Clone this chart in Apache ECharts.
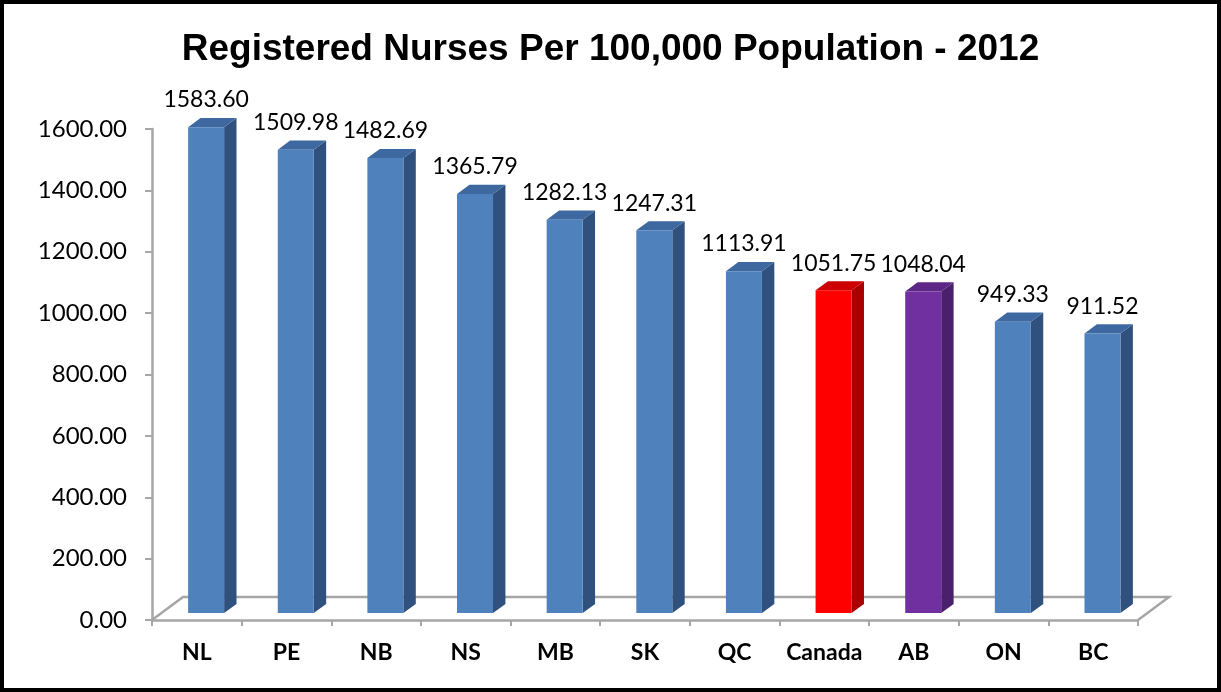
<!DOCTYPE html>
<html>
<head>
<meta charset="utf-8">
<script src="https://cdn.jsdelivr.net/npm/echarts@6/dist/echarts.min.js"></script>
<style>
html,body{margin:0;padding:0;background:#fff;}
#c{width:1221px;height:692px;}
</style>
</head>
<body>
<div id="c"></div>
<script>
const categories = ["NL","PE","NB","NS","MB","SK","QC","Canada","AB","ON","BC"];
const values = [1583.60,1509.98,1482.69,1365.79,1282.13,1247.31,1113.91,1051.75,1048.04,949.33,911.52];
const barKinds = ["prov","prov","prov","prov","prov","prov","prov","canada","ab","prov","prov"];
const yTicks = [0,200,400,600,800,1000,1200,1400,1600];

const palette = {
  prov:   {front:'#4f81bd', side:'#30507d', top:'#3e69a0'},
  canada: {front:'#ff0000', side:'#a80000', top:'#cc0000'},
  ab:     {front:'#7030a0', side:'#4a1f6c', top:'#5c2787'}
};
const DEPTH_DX = 31, DEPTH_DY = -23;       // floor depth
const F0 = 0.30, F1 = 0.70;                // bar front/back depth fractions
const BAR_W = 36;
const FONT = 'Lato, "Open Sans", sans-serif';

const chart = echarts.init(document.getElementById('c'), null, {renderer:'canvas'});

function renderBar(params, api){
  const i = api.value(0), v = api.value(1);
  const top = api.coord([i, v]);
  const base = api.coord([i, 0]);
  const c = palette[barKinds[i]];
  const fx = DEPTH_DX*F0, fy = DEPTH_DY*F0;
  const bx = DEPTH_DX*F1, by = DEPTH_DY*F1;
  const sx = bx - fx, sy = by - fy;
  const xl = top[0] + fx - BAR_W/2, xr = xl + BAR_W;
  const yt = top[1] + fy, yb = base[1] + fy;
  return {
    type:'group',
    children:[
      {type:'polygon', shape:{points:[[xr,yt],[xr+sx,yt+sy],[xr+sx,yb+sy],[xr,yb]]}, style:{fill:c.side}},
      {type:'polygon', shape:{points:[[xl,yt],[xl+sx,yt+sy],[xr+sx,yt+sy],[xr,yt]]}, style:{fill:c.top}},
      {type:'rect', shape:{x:xl, y:yt, width:BAR_W, height:yb-yt}, style:{fill:c.front}},
      {type:'text', x:(xl+xr)/2, y:yt+sy-18,
        style:{text:v.toFixed(2), fill:'#000', font:'23px '+FONT, align:'center', verticalAlign:'middle'}}
    ]
  };
}

function renderFloor(params, api){
  const band = api.size([1,0])[0];
  const p0 = api.coord([0,0]);
  const p1 = api.coord([categories.length-1,0]);
  const l = p0[0]-band/2, r = p1[0]+band/2, y = p0[1];
  return {
    type:'polyline',
    shape:{points:[[l,y],[l+DEPTH_DX,y+DEPTH_DY],[r+DEPTH_DX,y+DEPTH_DY],[r,y]]},
    style:{stroke:'#a6a6a6', lineWidth:2.5, fill:null}
  };
}

chart.setOption({
  animation:false,
  backgroundColor:'#fff',
  title:{
    text:'Registered Nurses Per 100,000 Population - 2012',
    left:'center', top:26,
    textStyle:{fontFamily:'"Liberation Sans", Arial, sans-serif', fontWeight:'bold', fontSize:37, color:'#000'}
  },
  grid:{left:152, right:83, top:129, bottom:72},
  xAxis:{
    type:'category', data:categories,
    axisLine:{lineStyle:{color:'#a6a6a6', width:2.5}},
    axisTick:{show:true, length:6, inside:false, lineStyle:{color:'#a6a6a6', width:2}},
    axisLabel:{interval:0, color:'#000', fontFamily:FONT, fontWeight:'bold', fontSize:23, margin:21}
  },
  yAxis:{
    type:'value', min:yTicks[0], max:yTicks[yTicks.length-1], interval:200,
    axisLine:{show:true, lineStyle:{color:'#a6a6a6', width:2.5}},
    axisTick:{show:true, length:7, lineStyle:{color:'#a6a6a6', width:2}},
    splitLine:{show:false},
    axisLabel:{color:'#000', fontFamily:FONT, fontSize:24, margin:25, formatter:v=>v.toFixed(2)}
  },
  series:[
    {type:'custom', name:'floor', renderItem:renderFloor, data:[[0,0]], z:1, silent:true},
    {type:'custom', name:'RN per 100k', renderItem:renderBar,
      data:values.map((v,i)=>[i,v]), z:2, encode:{x:0,y:1}}
  ],
  graphic:[
    {type:'rect', shape:{x:2, y:2, width:1217, height:688}, style:{fill:null, stroke:'#000', lineWidth:4}, z:100}
  ]
});
</script>
</body>
</html>
